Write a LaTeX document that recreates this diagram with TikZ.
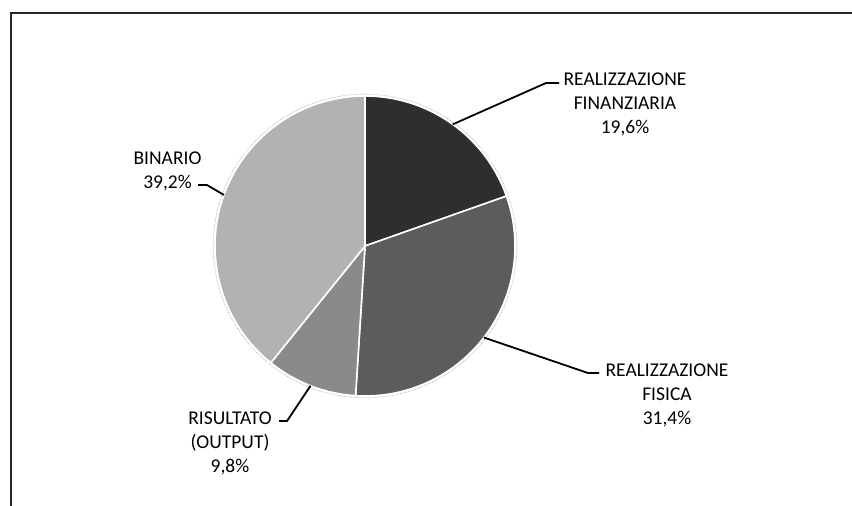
\documentclass[tikz,border=0pt]{standalone}
\usepackage{fontspec}
\setmainfont{Carlito}
\usetikzlibrary{calc}
\begin{document}
\begin{tikzpicture}[x=1pt,y=-1pt,
  lbl/.style={font=\fontsize{19.5}{23.8}\selectfont, align=center, inner sep=0pt, anchor=base},
  leader/.style={draw=black, line width=1.8pt, line join=miter},
  slice/.style={draw=white, line width=1.6pt, line join=round},
  frameline/.style={draw=black!85, line width=1.6pt}]
\useasboundingbox (0,0) rectangle (852,506);
\fill[white] (0,0) rectangle (852,506);
% frame
\coordinate (fbl) at (10.7,506);
\coordinate (ftl) at (10.7,12.7);
\coordinate (ftr) at (852,12.7);
\draw[frameline] (fbl) -- (ftl) -- (ftr);
% pie
\coordinate (c) at (365,246);
\draw[black!30, line width=0.7pt, densely dotted] (c) circle[radius=151.8];
\filldraw[slice, fill=black!82] (c) -- ++(-90:150) arc[start angle=-90, end angle=-19.44, radius=150] -- cycle;
\filldraw[slice, fill=black!64] (c) -- ++(-19.44:150) arc[start angle=-19.44, end angle=93.6, radius=150] -- cycle;
\filldraw[slice, fill=black!46] (c) -- ++(93.6:150) arc[start angle=93.6, end angle=128.88, radius=150] -- cycle;
\filldraw[slice, fill=black!30] (c) -- ++(128.88:150) arc[start angle=128.88, end angle=270, radius=150] -- cycle;
% labels (anchor = baseline of last line)
\node[lbl] (lfin) at (625,133.3) {REALIZZAZIONE\\FINANZIARIA\\19,6\%};
\node[lbl] (lfis) at (667,424.3) {REALIZZAZIONE\\FISICA\\31,4\%};
\node[lbl] (lris) at (230,472.3) {RISULTATO\\(OUTPUT)\\9,8\%};
\node[lbl] (lbin) at (167.5,188.3) {BINARIO\\39,2\%};
% leader points
\coordinate (pfin) at ($(c)+(-54.2:150)$);
\coordinate (kfin) at (546,83);
\coordinate (efin) at (559,83);
\coordinate (pfis) at ($(c)+(37.6:150)$);
\coordinate (kfis) at (588,373);
\coordinate (efis) at (599,373);
\coordinate (pris) at ($(c)+(111.3:150)$);
\coordinate (kris) at (287,421);
\coordinate (eris) at (279,421);
\coordinate (pbin) at ($(c)+(-160.1:150)$);
\coordinate (kbin) at (207,185);
\coordinate (ebin) at (198,185);
\draw[leader] (pfin) -- (kfin) -- (efin);
\draw[leader] (pfis) -- (kfis) -- (efis);
\draw[leader] (pris) -- (kris) -- (eris);
\draw[leader] (pbin) -- (kbin) -- (ebin);
\end{tikzpicture}
\end{document}
